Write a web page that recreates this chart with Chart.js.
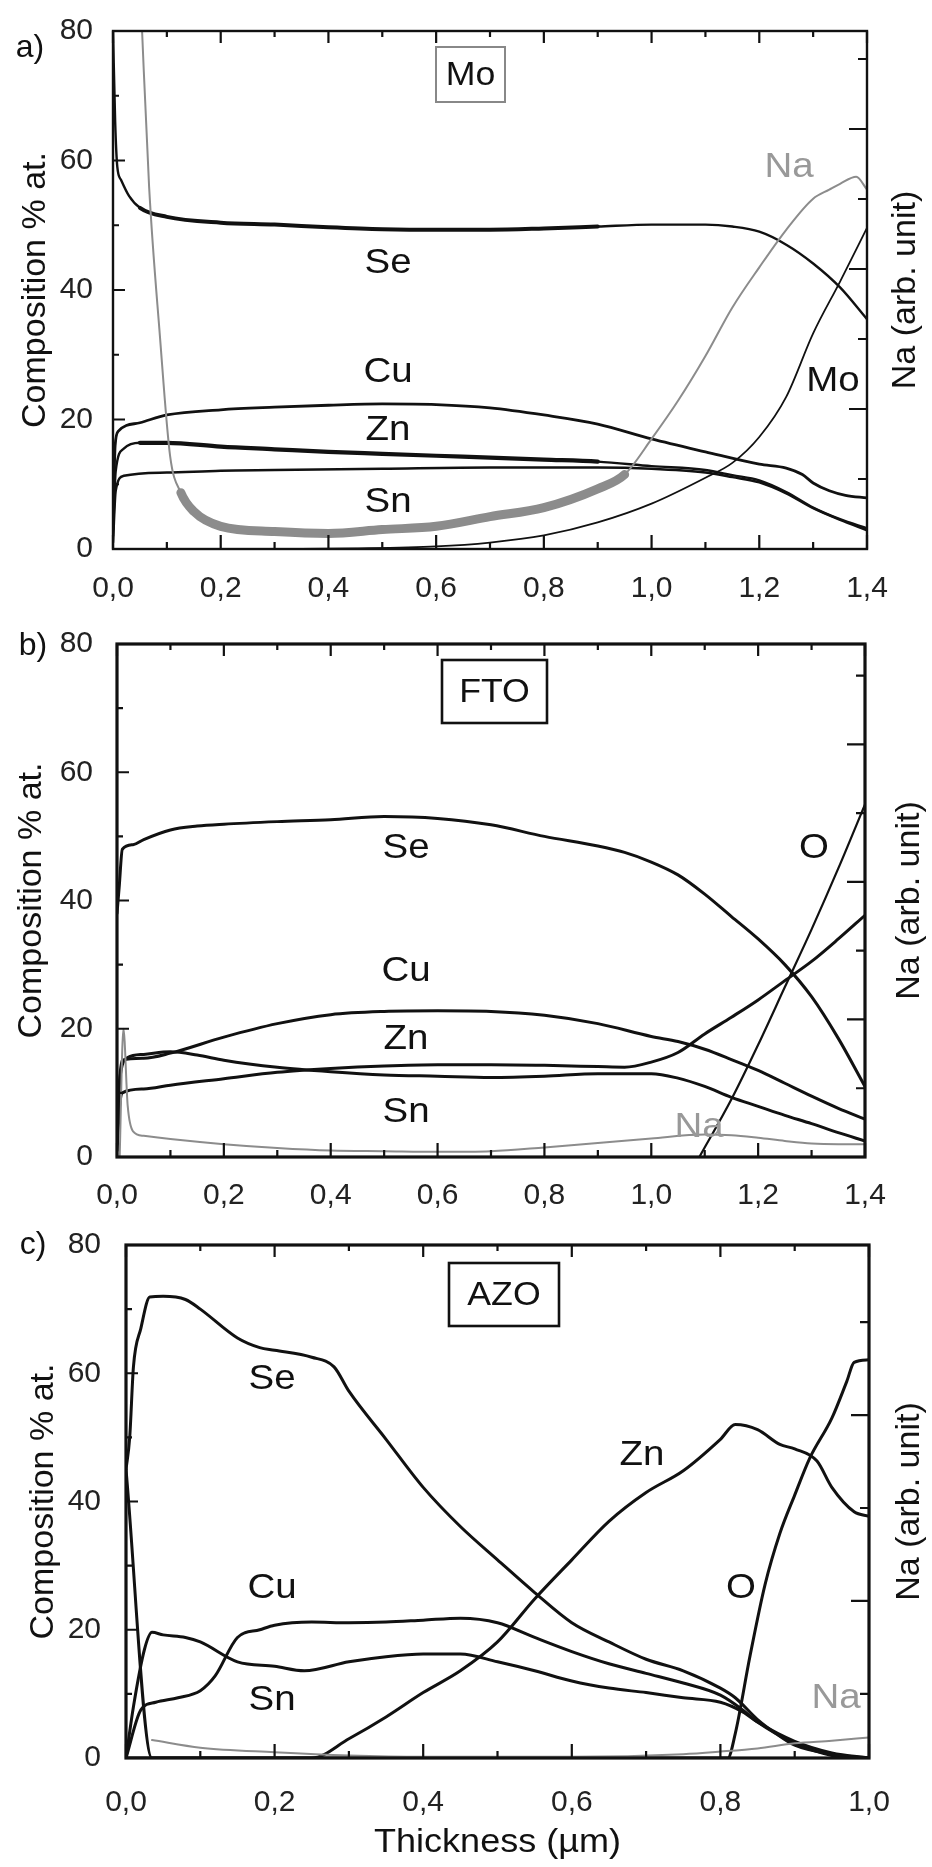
<!DOCTYPE html>
<html><head><meta charset="utf-8">
<script src="https://cdn.jsdelivr.net/npm/chart.js@4.4.1/dist/chart.umd.min.js"></script>
<style>
html,body{margin:0;padding:0;background:#fff;}
body{width:932px;height:1867px;position:relative;overflow:hidden;}
canvas{position:absolute;left:0;display:block;}
</style></head><body>
<canvas id="ca" width="932" height="610" style="top:0px"></canvas>
<canvas id="cb" width="932" height="600" style="top:610px"></canvas>
<canvas id="cc" width="932" height="657" style="top:1210px"></canvas>
<script>
// ---------- tick values & labels ----------
const xTicks14 = [0, 0.2, 0.4, 0.6, 0.8, 1.0, 1.2, 1.4];
const xLabels14 = ['0,0','0,2','0,4','0,6','0,8','1,0','1,2','1,4'];
const xTicks10 = [0, 0.2, 0.4, 0.6, 0.8, 1.0];
const xLabels10 = ['0,0','0,2','0,4','0,6','0,8','1,0'];
const yTicks = [0, 20, 40, 60, 80];
const yLabels = ['0','20','40','60','80'];

// ---------- panel a (Mo) ----------
const aSeX = [0, 0.004, 0.008, 0.015, 0.03, 0.05, 0.1, 0.2, 0.3, 0.4, 0.5, 0.6, 0.7, 0.8, 0.9, 1.0, 1.1, 1.15, 1.2, 1.25, 1.3, 1.35, 1.4];
const aSeY = [80, 66, 59, 57, 54.5, 52.7, 51.3, 50.4, 50.1, 49.7, 49.4, 49.3, 49.3, 49.5, 49.8, 50.1, 50.1, 49.8, 49, 47, 44.1, 40.4, 35.5];
const aCuX = [0, 0.004, 0.01, 0.05, 0.1, 0.2, 0.3, 0.4, 0.5, 0.6, 0.7, 0.8, 0.9, 1.0, 1.1, 1.2, 1.25, 1.28, 1.3, 1.33, 1.36, 1.4];
const aCuY = [3, 16, 18.2, 19.5, 20.7, 21.5, 21.9, 22.2, 22.4, 22.3, 21.8, 20.7, 19.3, 17, 15, 13.1, 12.5, 11.5, 10.2, 9, 8.3, 7.9];
const aZnX = [0, 0.005, 0.02, 0.05, 0.1, 0.2, 0.3, 0.4, 0.5, 0.6, 0.7, 0.8, 0.9, 1.0, 1.1, 1.15, 1.2, 1.25, 1.3, 1.35, 1.4];
const aZnY = [2, 12, 15.5, 16.4, 16.4, 15.8, 15.4, 15.0, 14.7, 14.4, 14.1, 13.8, 13.5, 12.8, 12.2, 11.4, 10.6, 8.8, 6.4, 4.6, 3.2];
const aSnX = [0, 0.005, 0.02, 0.1, 0.2, 0.3, 0.5, 0.7, 0.9, 1.0, 1.1, 1.15, 1.2, 1.25, 1.3, 1.35, 1.4];
const aSnY = [1, 9, 11.3, 11.8, 12.1, 12.2, 12.4, 12.6, 12.6, 12.4, 11.8, 11.1, 10.3, 8.6, 6.3, 4.5, 2.9];
const aMoX = [0.3, 0.45, 0.6, 0.7, 0.8, 0.9, 1.0, 1.1, 1.15, 1.2, 1.25, 1.3, 1.35, 1.4];
const aMoY = [0, 0.1, 0.4, 1, 2.1, 4.1, 7, 11, 13.3, 17.3, 23.5, 33.3, 41.3, 49.6];
const aNaX = [0.05, 0.054, 0.067, 0.087, 0.106, 0.126, 0.15, 0.2, 0.3, 0.4, 0.5, 0.6, 0.7, 0.8, 0.9, 0.95, 1.0, 1.05, 1.1, 1.15, 1.2, 1.25, 1.3, 1.33, 1.35, 1.38, 1.4];
const aNaY = [88, 80, 56, 33, 14.4, 8.7, 5.8, 3.5, 2.7, 2.4, 3, 3.5, 5, 6.4, 9.3, 11.5, 17, 23, 29.8, 37.3, 43.5, 49.3, 54.1, 55.5, 56.4, 57.5, 55.5];

// ---------- panel b (FTO) ----------
const bSeX = [0, 0.004, 0.01, 0.03, 0.05, 0.1, 0.15, 0.2, 0.3, 0.4, 0.5, 0.6, 0.7, 0.8, 0.9, 0.95, 1.0, 1.05, 1.1, 1.15, 1.2, 1.25, 1.3, 1.35, 1.4];
const bSeY = [38, 42, 48, 48.7, 49.5, 51, 51.6, 51.9, 52.3, 52.6, 53.1, 52.8, 51.8, 50, 48.5, 47.5, 46, 44, 41, 37.5, 34, 30, 25, 18.5, 11];
const bCuX = [0, 0.005, 0.01, 0.05, 0.1, 0.2, 0.3, 0.4, 0.5, 0.6, 0.7, 0.8, 0.9, 1.0, 1.05, 1.1, 1.15, 1.2, 1.25, 1.3, 1.35, 1.4];
const bCuY = [2, 12, 15.1, 15.4, 16.2, 18.7, 20.8, 22.2, 22.7, 22.8, 22.7, 22.1, 20.8, 18.8, 18.0, 16.8, 15.2, 13.5, 11.5, 9.5, 7.6, 5.9];
const bZnX = [0, 0.005, 0.02, 0.05, 0.1, 0.15, 0.2, 0.3, 0.4, 0.5, 0.6, 0.7, 0.8, 0.9, 1.0, 1.05, 1.1, 1.15, 1.2, 1.25, 1.3, 1.35, 1.4];
const bZnY = [3, 12, 15.5, 16, 16.4, 15.9, 15.1, 14, 13.3, 12.8, 12.6, 12.4, 12.6, 13.0, 13.0, 12.3, 11, 9.3, 7.9, 6.5, 5.2, 3.8, 2.5];
const bSnX = [0, 0.005, 0.01, 0.05, 0.1, 0.2, 0.3, 0.4, 0.5, 0.6, 0.7, 0.8, 0.9, 0.95, 1.0, 1.05, 1.1, 1.15, 1.2, 1.25, 1.3, 1.35, 1.4];
const bSnY = [1, 8, 10, 10.6, 11.2, 12.2, 13.2, 13.8, 14.2, 14.4, 14.4, 14.3, 14.1, 14.0, 14.8, 16.3, 19.2, 21.8, 24.5, 27.5, 30.5, 34, 37.7];
const bOX = [1.09, 1.15, 1.2, 1.25, 1.3, 1.35, 1.4];
const bOY = [0, 9, 17.5, 26.5, 35.5, 45, 55];
const bNaX = [0.005, 0.012, 0.02, 0.03, 0.05, 0.1, 0.2, 0.3, 0.4, 0.5, 0.6, 0.7, 0.8, 0.9, 1.0, 1.1, 1.15, 1.2, 1.25, 1.3, 1.35, 1.4];
const bNaY = [0, 20, 8, 4, 3.3, 2.8, 2, 1.4, 1, 0.9, 0.8, 0.9, 1.5, 2.2, 2.9, 3.5, 3.4, 3, 2.5, 2.1, 2, 2];

// ---------- panel c (AZO) ----------
const cSeX = [0, 0.005, 0.01, 0.02, 0.032, 0.05, 0.08, 0.1, 0.15, 0.18, 0.2, 0.25, 0.28, 0.3, 0.35, 0.4, 0.45, 0.5, 0.55, 0.6, 0.65, 0.7, 0.75, 0.8, 0.82, 0.85, 0.875, 0.9, 0.95, 1.0];
const cSeY = [45, 50, 61, 67, 71.9, 72, 71.5, 70, 65.5, 64, 63.6, 62.5, 61, 57.2, 49.7, 42.2, 36.1, 30.9, 25.8, 21.1, 18.1, 15.4, 13.6, 10.9, 9.4, 6, 3.8, 2, 0.6, 0];
const cCuX = [0, 0.02, 0.04, 0.07, 0.1, 0.12, 0.15, 0.18, 0.2, 0.25, 0.3, 0.35, 0.4, 0.45, 0.5, 0.55, 0.6, 0.65, 0.7, 0.75, 0.8, 0.83, 0.85, 0.9, 0.95, 1.0];
const cCuY = [0, 7.5, 8.7, 9.4, 10.5, 12.8, 18.8, 20, 20.7, 21.2, 21.1, 21.2, 21.5, 21.8, 21.1, 18.8, 16.6, 14.7, 13.2, 11.7, 9.8, 7.5, 5.6, 2.3, 0.4, 0];
const cSnX = [0, 0.01, 0.025, 0.035, 0.05, 0.08, 0.1, 0.15, 0.2, 0.24, 0.3, 0.35, 0.4, 0.45, 0.5, 0.55, 0.6, 0.65, 0.7, 0.75, 0.8, 0.83, 0.85, 0.9, 0.95, 1.0];
const cSnY = [0, 8, 17, 19.6, 19.2, 18.8, 18.1, 15, 14.3, 13.6, 15, 15.8, 16.2, 16.2, 15, 13.6, 12, 10.9, 10.2, 9.4, 8.7, 7.2, 5.6, 2.6, 0.8, 0];
const cZnX = [0, 0.25, 0.3, 0.35, 0.4, 0.45, 0.5, 0.55, 0.6, 0.65, 0.7, 0.75, 0.8, 0.82, 0.85, 0.88, 0.9, 0.93, 0.95, 0.98, 1.0];
const cZnY = [0, 0, 3, 6.4, 10.2, 13.6, 18.1, 24.8, 30.9, 36.9, 41.4, 44.8, 49.7, 52, 51.2, 48.9, 48.2, 46.3, 42.2, 38.4, 37.7];
const cOX = [0, 0.035, 0.2, 0.81, 0.82, 0.84, 0.86, 0.88, 0.9, 0.92, 0.95, 0.97, 0.98, 1.0];
const cOY = [45, 0, 0, 0, 3.8, 16, 27, 35, 41, 46.7, 53, 58.7, 61.7, 62.1];
const cNaX = [0.035, 0.1, 0.2, 0.3, 0.4, 0.6, 0.75, 0.8, 0.85, 0.9, 0.95, 1.0];
const cNaY = [2.8, 1.6, 0.9, 0.4, 0.2, 0.2, 0.6, 1.0, 1.5, 2.3, 2.7, 3.2];

// ---------- helpers ----------
const BLACK = '#111111', GRAY = '#8c8c8c';
const FONT = '"Liberation Sans", Arial, Helvetica, sans-serif';
Chart.defaults.font.family = FONT;
Chart.defaults.color = '#222';

function pts(xs, ys) { return xs.map((x, i) => ({x: x, y: ys[i]})); }
function ds(xs, ys, color, width, bandWidth, bandFrom, bandTo) {
  const d = {data: pts(xs, ys), borderColor: color, borderWidth: width, pointRadius: 0,
    cubicInterpolationMode: 'monotone', fill: false, yAxisID: 'y', borderJoinStyle: 'round', borderCapStyle: 'round'};
  if (bandWidth) {
    d.segment = {borderWidth: c => (c.p0.parsed.x >= bandFrom && c.p1.parsed.x <= bandTo) ? bandWidth : width};
  }
  return d;
}
function range(a, b, s) { const r = []; for (let v = a; v <= b + 1e-9; v += s) r.push(Math.round(v * 1000) / 1000); return r; }

function wideText(ctx, t, x, y, sx) {
  ctx.save(); ctx.translate(x, y); ctx.scale(sx, 1); ctx.fillText(t, 0, 0); ctx.restore();
}

const deco = {
  id: 'deco',
  afterDraw(chart) {
    const o = chart.options.plugins.deco;
    const {ctx, chartArea: a, scales} = chart;
    const X = scales.x, Y = scales.y, Y2 = scales.y2;
    const off = o.offY;
    ctx.save();
    ctx.strokeStyle = BLACK;
    ctx.lineWidth = 2.2;
    ctx.lineCap = 'butt';
    ctx.beginPath();
    o.xMajor.forEach(v => { const p = X.getPixelForValue(v);
      ctx.moveTo(p, a.bottom); ctx.lineTo(p, a.bottom - 14);
      ctx.moveTo(p, a.top); ctx.lineTo(p, a.top + 12); });
    o.xMinor.forEach(v => { const p = X.getPixelForValue(v);
      ctx.moveTo(p, a.bottom); ctx.lineTo(p, a.bottom - 7);
      ctx.moveTo(p, a.top); ctx.lineTo(p, a.top + 6); });
    [20, 40, 60].forEach(v => { const p = Y.getPixelForValue(v); ctx.moveTo(a.left, p); ctx.lineTo(a.left + 12, p); });
    [10, 30, 50, 70].forEach(v => { const p = Y.getPixelForValue(v); ctx.moveTo(a.left, p); ctx.lineTo(a.left + 6, p); });
    o.y2Major.forEach(v => { const p = Y2.getPixelForValue(v); ctx.moveTo(a.right, p); ctx.lineTo(a.right - 18, p); });
    o.y2Minor.forEach(v => { const p = Y2.getPixelForValue(v); ctx.moveTo(a.right, p); ctx.lineTo(a.right - 9, p); });
    ctx.stroke();
    ctx.lineWidth = o.frameW;
    ctx.strokeRect(a.left, a.top, a.right - a.left, a.bottom - a.top);
    const b = o.box;
    ctx.lineWidth = b.lw; ctx.strokeStyle = b.color;
    ctx.strokeRect(b.x, b.y - off, b.w, b.h);
    ctx.fillStyle = '#111';
    ctx.textAlign = 'center'; ctx.textBaseline = 'middle';
    ctx.font = '34px ' + FONT;
    wideText(ctx, b.text, b.x + b.w / 2, b.y - off + b.h / 2 + 1, 1.05);
    ctx.font = '35px ' + FONT;
    o.labels.forEach(l => { ctx.fillStyle = l.c || '#111'; wideText(ctx, l.t, l.x, l.y - off, 1.1); });
    ctx.fillStyle = '#111';
    ctx.font = '32px ' + FONT;
    ctx.fillText(o.letter, o.letterX, o.letterY - off);
    ctx.font = '34px ' + FONT;
    const mid = (a.top + a.bottom) / 2;
    ctx.save(); ctx.translate(o.ltX, mid); ctx.rotate(-Math.PI / 2);
    ctx.fillText('Composition % at.', 0, 0); ctx.restore();
    ctx.save(); ctx.translate(o.rtX, mid); ctx.rotate(-Math.PI / 2);
    ctx.fillText('Na (arb. unit)', 0, 0); ctx.restore();
    if (o.xTitle) wideText(ctx, o.xTitle, (a.left + a.right) / 2, o.xTitleY - off, 1.06);
    ctx.restore();
  }
};

function makePanel(id, p) {
  new Chart(document.getElementById(id), {
    type: 'line',
    data: {datasets: p.datasets},
    options: {
      responsive: false, animation: false, devicePixelRatio: 1,
      layout: {padding: {top: p.top, left: 0, right: 0, bottom: 0}},
      plugins: {legend: {display: false}, tooltip: {enabled: false}, deco: p.deco},
      scales: {
        x: {type: 'linear', min: 0, max: p.xMax, position: 'bottom',
          grid: {display: false}, border: {display: false},
          afterBuildTicks: s => { s.ticks = p.xTicks.map(v => ({value: v})); },
          afterFit: s => { s.height = p.xH; },
          ticks: {padding: p.xPad, font: {size: 30}, color: '#222', maxRotation: 0,
            callback: (v, i) => p.xLabels[i]}},
        y: {type: 'linear', min: 0, max: 80, position: 'left',
          grid: {display: false}, border: {display: false},
          afterBuildTicks: s => { s.ticks = yTicks.map(v => ({value: v})); },
          afterFit: s => { s.width = p.left; },
          ticks: {padding: p.yPad, font: {size: 30}, color: '#222', callback: (v, i) => yLabels[i]}},
        y2: {type: 'linear', min: p.y2Min, max: p.y2Max, position: 'right',
          grid: {display: false}, border: {display: false},
          ticks: {display: false},
          afterFit: s => { s.width = 932 - p.right; }}
      }
    },
    plugins: [deco]
  });
}

makePanel('ca', {
  top: 31, xH: 61, left: 113, right: 867, xMax: 1.4, xTicks: xTicks14, xLabels: xLabels14,
  xPad: 14, yPad: 12, y2Min: 0, y2Max: 7.4,
  datasets: [
    ds(aNaX, aNaY, GRAY, 2, 9, 0.12, 0.96),
    ds(aSeX, aSeY, BLACK, 2.4, 4, 0.04, 0.96),
    ds(aCuX, aCuY, BLACK, 2.8),
    ds(aZnX, aZnY, BLACK, 2.4, 4.2, 0.04, 0.96),
    ds(aSnX, aSnY, BLACK, 2.5),
    ds(aMoX, aMoY, BLACK, 1.8)
  ],
  deco: {offY: 0, frameW: 2.4, xMajor: xTicks14, xMinor: range(0.1, 1.3, 0.2),
    y2Major: [2, 4, 6], y2Minor: [1, 3, 5, 7],
    box: {x: 436, y: 47, w: 69, h: 55, lw: 2, color: '#888', text: 'Mo'},
    labels: [{t: 'Se', x: 388, y: 263}, {t: 'Cu', x: 388, y: 372}, {t: 'Zn', x: 388, y: 430},
             {t: 'Sn', x: 388, y: 502}, {t: 'Na', x: 789, y: 167, c: '#999'}, {t: 'Mo', x: 833, y: 381}],
    letter: 'a)', letterX: 30, letterY: 48, ltX: 36, rtX: 906}
});

makePanel('cb', {
  top: 28, xH: 53, left: 117, right: 865, xMax: 1.4, xTicks: xTicks14, xLabels: xLabels14,
  xPad: 13, yPad: 16, y2Min: 0, y2Max: 7.46,
  datasets: [
    ds(bNaX, bNaY, GRAY, 2),
    ds(bSeX, bSeY, BLACK, 3),
    ds(bCuX, bCuY, BLACK, 3),
    ds(bZnX, bZnY, BLACK, 3),
    ds(bSnX, bSnY, BLACK, 3),
    ds(bOX, bOY, BLACK, 2.2)
  ],
  deco: {offY: 610, frameW: 3.2, xMajor: xTicks14, xMinor: range(0.1, 1.3, 0.2),
    y2Major: [2, 4, 6], y2Minor: [1, 3, 5, 7],
    box: {x: 442, y: 660, w: 105, h: 63, lw: 2.6, color: '#111', text: 'FTO'},
    labels: [{t: 'Se', x: 406, y: 848}, {t: 'Cu', x: 406, y: 971}, {t: 'Zn', x: 406, y: 1039},
             {t: 'Sn', x: 406, y: 1112}, {t: 'O', x: 814, y: 848}, {t: 'Na', x: 699, y: 1127, c: '#999'}],
    letter: 'b)', letterX: 33, letterY: 646, ltX: 32, rtX: 910}
});

makePanel('cc', {
  top: 26, xH: 109, left: 126, right: 869, xMax: 1.0, xTicks: xTicks10, xLabels: xLabels10,
  xPad: 19, yPad: 17, y2Min: -1.69, y2Max: 3.83,
  datasets: [
    ds(cNaX, cNaY, GRAY, 2),
    ds(cSeX, cSeY, BLACK, 3),
    ds(cCuX, cCuY, BLACK, 3),
    ds(cSnX, cSnY, BLACK, 3),
    ds(cZnX, cZnY, BLACK, 3),
    ds(cOX, cOY, BLACK, 3)
  ],
  deco: {offY: 1210, frameW: 3.2, xMajor: xTicks10, xMinor: range(0.1, 0.9, 0.2),
    y2Major: [0, 2], y2Minor: [-1, 1, 3],
    box: {x: 449, y: 1263, w: 110, h: 63, lw: 2.6, color: '#111', text: 'AZO'},
    labels: [{t: 'Se', x: 272, y: 1379}, {t: 'Cu', x: 272, y: 1588}, {t: 'Sn', x: 272, y: 1700},
             {t: 'Zn', x: 642, y: 1455}, {t: 'O', x: 741, y: 1588}, {t: 'Na', x: 836, y: 1698, c: '#999'}],
    letter: 'c)', letterX: 33, letterY: 1245, ltX: 44, rtX: 910,
    xTitle: 'Thickness (µm)', xTitleY: 1843}
});
</script>
</body></html>
